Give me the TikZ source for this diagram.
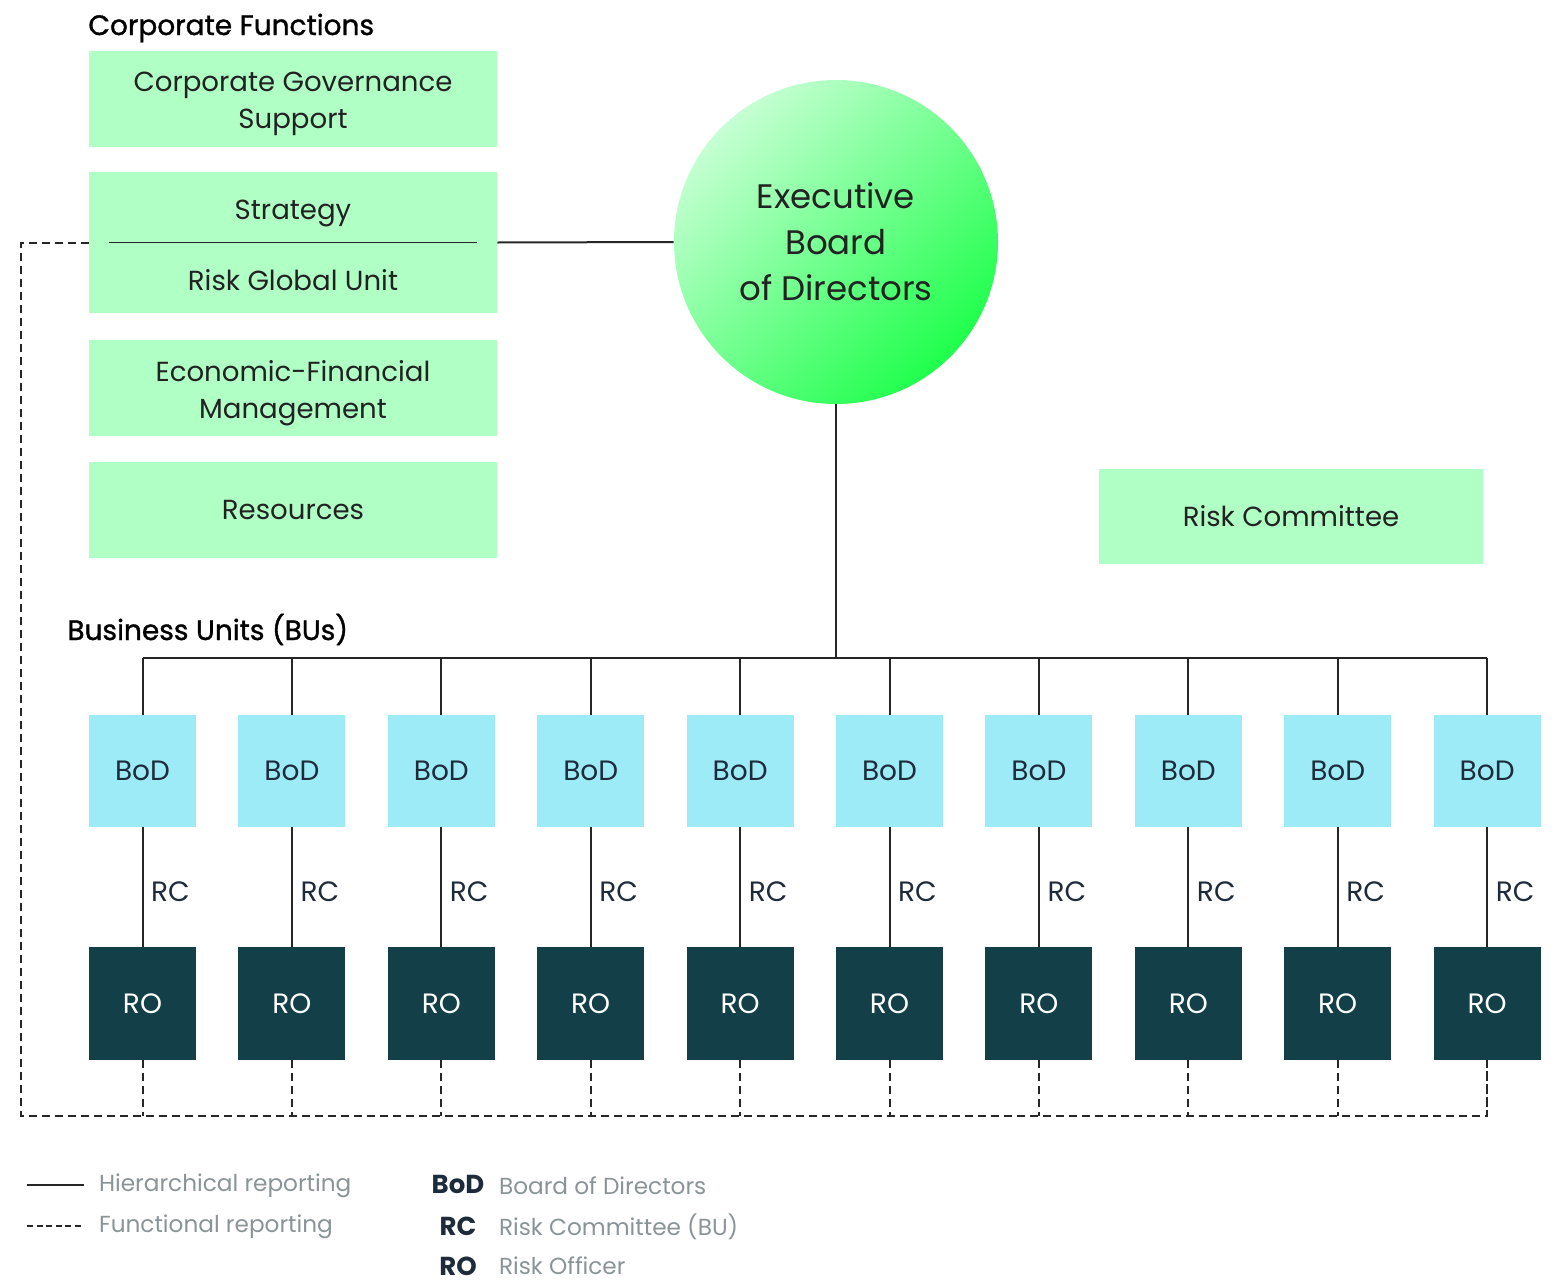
\documentclass[tikz,border=0pt]{standalone}
\usepackage{fontspec}
\setmainfont{Poppins}
\newfontfamily\headfont{Poppins}[FakeBold=1.2]
\usepackage{xcolor}
\usetikzlibrary{positioning, calc}

\definecolor{funcgreen}{HTML}{B0FFC4}
\definecolor{bodcyan}{HTML}{9EEBF8}
\definecolor{roteal}{HTML}{123F48}
\definecolor{legendgray}{HTML}{8A9497}
\definecolor{legendnavy}{HTML}{1E2B3A}
\definecolor{textdark}{HTML}{222222}
\definecolor{execlight}{HTML}{C6FFD3}
\definecolor{execbright}{HTML}{1FFF4C}

\begin{document}
\begin{tikzpicture}[x=0.5pt, y=-0.5pt,
  func/.style={fill=funcgreen, minimum width=204pt, minimum height=48pt},
  functext/.style={align=center, text=textdark, font=\fontsize{13.8}{18.5}\selectfont},
  bod/.style={fill=bodcyan, minimum width=53.5pt, minimum height=56pt, text=legendnavy, font=\fontsize{14}{17}\selectfont},
  ro/.style={fill=roteal, minimum width=53.5pt, minimum height=56.5pt, text=white, font=\fontsize{14}{17}\selectfont},
  hier/.style={draw=black!85, line width=1pt},
  fnl/.style={draw=black!85, line width=1pt, dash pattern=on 4pt off 2.5pt},
  legtext/.style={text=legendgray, font=\fontsize{11.6}{14}\selectfont},
  legabbr/.style={text=legendnavy, font=\fontsize{13}{16}\selectfont\bfseries}]
\useasboundingbox (0,0) rectangle (1557,1285);

% corporate functions
\node[anchor=base west, inner sep=0pt, font=\headfont\fontsize{14}{17}\selectfont] (cfTitle) at (88,35) {Corporate Functions};
\node[func] (govSupport) at (293,99) {};
\node[functext] (govSupportTxt) at ($(govSupport)+(0,5)$) {Corporate Governance\\Support};
\node[func, minimum height=70.5pt] (strat) at (293,242.5) {};
\node[functext] (stratTxt) at (293,213) {Strategy};
\node[functext] (riskUnitTxt) at (293,280) {Risk Global Unit};
\draw[line width=0.75pt, black!85] ($(strat.west)+(20,0)$) -- ($(strat.east)+(-20,0)$);
\node[func] (econFin) at (293,387.5) {};
\node[functext] (econFinTxt) at ($(econFin)+(0,6)$) {Economic-Financial\\Management};
\node[func] (resources) at (293,509.5) {};
\node[functext] (resourcesTxt) at (resources) {Resources};

% executive board
\node[circle, minimum size=162pt, inner sep=0pt, align=center, text=textdark,
      top color=execlight, bottom color=execbright, shading angle=45,
      font=\fontsize{17}{23}\selectfont] (exec) at (836,242) {Executive\\Board\\of Directors};
\draw[hier] (strat.east) -- (exec.west);

\node[func, minimum width=192pt, minimum height=47.5pt] (riskComm) at (1291,516.5) {};
\node[functext] (riskCommTxt) at (riskComm) {Risk Committee};

% business units
\node[anchor=base west, inner sep=0pt, font=\headfont\fontsize{14}{17}\selectfont] (buTitle) at (67,640) {Business Units (BUs)};
\coordinate (busBar) at (836,658);
\coordinate (fnLeft) at (21,1116);

\foreach \i in {1,...,10} {
  \node[bod] (bod\i) at ({142.5+(\i-1)*149.4},771) {BoD};
  \node[ro] (ro\i) at ({142.5+(\i-1)*149.4},1003.5) {RO};
  \draw[hier] (bod\i.south) -- (ro\i.north) node[midway, right=0.5pt, yshift=-2.5pt, text=legendnavy, font=\fontsize{14}{17}\selectfont] (rc\i) {RC};
  \draw[hier] (bod\i.north |- busBar) -- (bod\i.north);
  \draw[fnl] (ro\i.south) -- (ro\i.south |- fnLeft);
}
\draw[hier] (exec.south) -- (busBar);
\draw[hier] (bod1.north |- busBar) -- (bod10.north |- busBar);
\draw[fnl] (strat.west) -| (fnLeft) -- (ro10.south |- fnLeft) -- (ro10.south);

% legend
\coordinate (hierA) at (27,1185);
\coordinate (hierB) at (84,1185);
\coordinate (fnA) at (27,1226);
\coordinate (fnB) at (84,1226);
\draw[hier] (hierA) -- (hierB);
\draw[fnl, line width=0.8pt, dash pattern=on 3pt off 1.8pt] (fnA) -- (fnB);
\node[legtext, anchor=west] (hierLbl) at (92,1186) {Hierarchical reporting};
\node[legtext, anchor=west] (fnLbl) at (92,1227) {Functional reporting};
\node[legabbr] (bodAbbr) at (458,1184) {BoD};
\node[legabbr] (rcAbbr) at (458,1226) {RC};
\node[legabbr] (roAbbr) at (458,1266) {RO};
\node[legtext, anchor=west] (bodLbl) at (492,1186) {Board of Directors};
\node[legtext, anchor=west] (rcLbl) at (492,1227) {Risk Committee (BU)};
\node[legtext, anchor=west] (roLbl) at (492,1266) {Risk Officer};
\end{tikzpicture}
\end{document}
